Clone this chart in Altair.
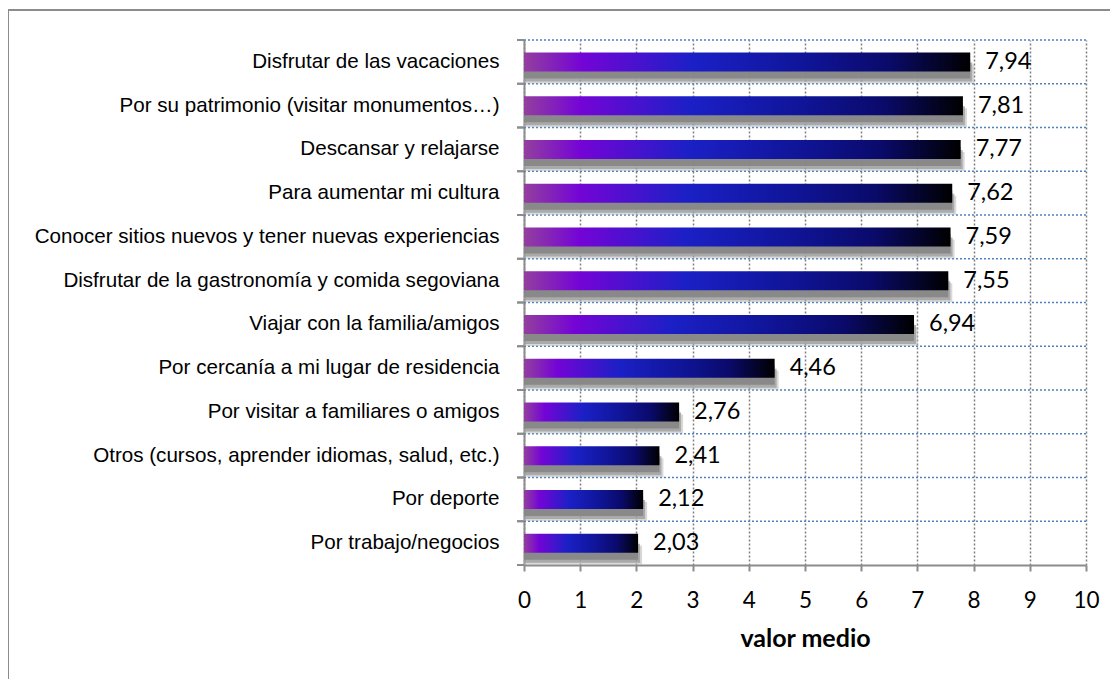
import altair as alt
import pandas as pd

categories = [
    "Disfrutar de las vacaciones",
    "Por su patrimonio (visitar monumentos…)",
    "Descansar y relajarse",
    "Para aumentar mi cultura",
    "Conocer sitios nuevos y tener nuevas experiencias",
    "Disfrutar de la gastronomía y comida segoviana",
    "Viajar con la familia/amigos",
    "Por cercanía a mi lugar de residencia",
    "Por visitar a familiares o amigos",
    "Otros (cursos, aprender idiomas, salud, etc.)",
    "Por deporte",
    "Por trabajo/negocios",
]
values = [7.94, 7.81, 7.77, 7.62, 7.59, 7.55, 6.94, 4.46, 2.76, 2.41, 2.12, 2.03]
labels = [f"{v:.2f}".replace(".", ",") for v in values]
x_ticks = list(range(0, 11))

df = pd.DataFrame({"cat": categories, "val": values, "lab": labels})

W, H = 562, 525
PAD = {"left": 516, "top": 32, "right": 24, "bottom": 122}

yscale = alt.Scale(domain=categories, paddingInner=0, paddingOuter=0)
yaxis = alt.Axis(
    title=None, ticks=False, grid=False, domain=True, domainColor="#8c8c8c",
    domainWidth=2, labelFont="Liberation Sans", labelFontSize=20.6,
    labelColor="#000000", labelPadding=25, labelLimit=600,
)
xscale = alt.Scale(domain=[0, 10], nice=False, zero=True)
xaxis = alt.Axis(
    title="valor medio", values=x_ticks, format="d", grid=True,
    gridColor="#7f7f7f", gridDash=[2, 2], gridWidth=1.5,
    domainColor="#8c8c8c", domainWidth=2, tickColor="#8c8c8c", tickWidth=2,
    tickSize=6, labelFont="Lato", labelFontSize=22.5, labelColor="#000000",
    labelPadding=18, labelFlush=False, labelOverlap=False,
    titleFont="Lato", titleFontSize=25, titleFontWeight="bold",
    titleColor="#000000", titlePadding=15,
)

Y = alt.Y("cat:N", scale=yscale, axis=yaxis, sort=categories)
X = alt.X("val:Q", scale=xscale, axis=xaxis)

base = alt.Chart(df)

hgrid = base.mark_rule(color="#4f81bd", strokeDash=[2, 2], strokeWidth=1.5).encode(
    y=alt.Y("cat:N", scale=yscale, axis=yaxis, sort=categories, bandPosition=0),
)
yticks_top = base.mark_rule(color="#8c8c8c", strokeWidth=2).encode(
    y=alt.Y("cat:N", scale=yscale, axis=yaxis, sort=categories, bandPosition=0),
    x=alt.value(-7), x2=alt.value(0),
)
yticks_bot = base.mark_rule(color="#8c8c8c", strokeWidth=2).encode(
    y=alt.Y("cat:N", scale=yscale, axis=yaxis, sort=categories, bandPosition=1),
    x=alt.value(-7), x2=alt.value(0),
)

# soft outer shadow, then darker core shadow directly under each bar
shadow_soft = base.mark_bar(
    size=19, yOffset=12, color="#b4b4b4", opacity=0.5, xOffset=4
).encode(y=Y, x=X, x2=alt.datum(0))
shadow_mid = base.mark_bar(
    size=19, yOffset=10, color="#9a9a9a", opacity=0.75, xOffset=2
).encode(y=Y, x=X, x2=alt.datum(0))
shadow_core = base.mark_bar(
    size=19, yOffset=7, color="#878787", opacity=0.95
).encode(y=Y, x=X, x2=alt.datum(0))

bar_grad = alt.Gradient(
    gradient="linear", x1=0, x2=1, y1=0, y2=0,
    stops=[
        alt.GradientStop(offset=0, color="#933f9e"),
        alt.GradientStop(offset=0.13, color="#7404d6"),
        alt.GradientStop(offset=0.38, color="#1b20c6"),
        alt.GradientStop(offset=0.62, color="#10159a"),
        alt.GradientStop(offset=0.82, color="#0a0a6a"),
        alt.GradientStop(offset=1, color="#000000"),
    ],
)
bars = base.mark_bar(size=19, color=bar_grad).encode(y=Y, x=X)

text = base.mark_text(
    align="left", baseline="middle", dx=15, font="Lato", fontSize=23.5, color="#000000"
).encode(y=Y, x=X, text="lab:N")

one = pd.DataFrame({"d": [0]})
frame_left = alt.Chart(one).mark_rule(color="#8c8c8c", strokeWidth=2).encode(
    x=alt.value(-516), y=alt.value(-30), y2=alt.value(H + 300)
)
frame_top = alt.Chart(one).mark_rule(color="#8c8c8c", strokeWidth=2).encode(
    x=alt.value(-517), x2=alt.value(W + 100), y=alt.value(-30)
)

chart = alt.layer(
    hgrid, shadow_soft, shadow_mid, shadow_core, bars,
    yticks_top, yticks_bot, text, frame_left, frame_top
).properties(
    width=W, height=H, padding=PAD, autosize="none", background="white"
).configure_view(stroke=None)

chart.save("out.html", embed_options={"renderer": "svg", "actions": False})
